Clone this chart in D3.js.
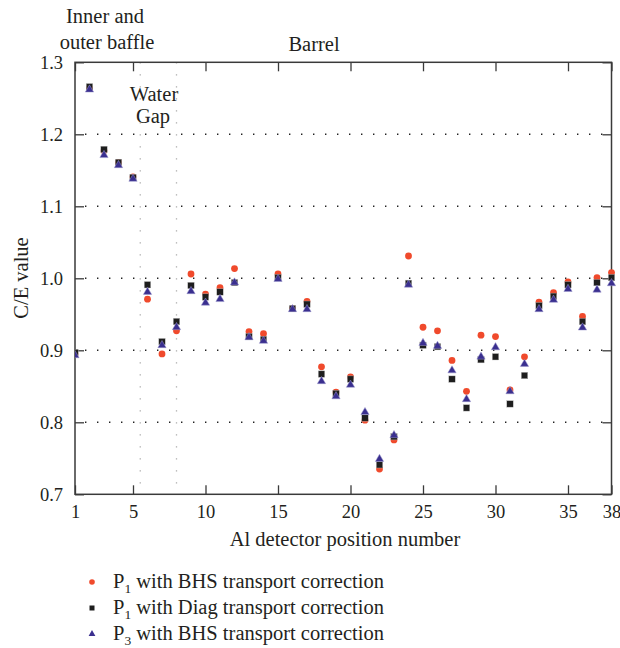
<!DOCTYPE html>
<html><head><meta charset="utf-8">
<script src="https://cdn.jsdelivr.net/npm/d3@7"></script>
<style>
html,body{margin:0;padding:0;background:#fff;}
svg text{font-family:"Liberation Serif","Tinos","Times New Roman","DejaVu Serif",serif;fill:#231f20;}
</style></head>
<body><svg id="c" width="620" height="648" font-family="Liberation Serif, DejaVu Serif, serif"></svg>
<script>
const positions = d3.range(1, 39);
const p1BHS = [0.895, 1.264, 1.177, 1.161, 1.141, 0.971, 0.895, 0.927, 1.006, 0.978, 0.987, 1.0135, 0.926, 0.923, 1.006, 0.958, 0.968, 0.877, 0.842, 0.863, 0.803, 0.735, 0.7755, 1.031, 0.932, 0.927, 0.886, 0.843, 0.921, 0.919, 0.845, 0.891, 0.967, 0.980, 0.995, 0.947, 1.001, 1.008];
const p1Diag = [0.897, 1.266, 1.179, 1.161, 1.140, 0.991, 0.912, 0.940, 0.990, 0.974, 0.981, 0.994, 0.919, 0.915, 1.001, 0.958, 0.964, 0.867, 0.840, 0.860, 0.806, 0.741, 0.780, 0.993, 0.907, 0.905, 0.860, 0.820, 0.887, 0.891, 0.8255, 0.865, 0.962, 0.975, 0.991, 0.940, 0.994, 1.001];
const p3BHS = [0.893, 1.262, 1.171, 1.157, 1.138, 0.981, 0.907, 0.932, 0.982, 0.966, 0.971, 0.994, 0.918, 0.913, 0.999, 0.957, 0.957, 0.857, 0.836, 0.852, 0.814, 0.749, 0.782, 0.991, 0.910, 0.906, 0.872, 0.832, 0.891, 0.904, 0.843, 0.881, 0.957, 0.970, 0.985, 0.9315, 0.984, 0.993];
const xTickValues = [1, 5, 10, 15, 20, 25, 30, 35, 38];
const yTickValues = [0.7, 0.8, 0.9, 1.0, 1.1, 1.2, 1.3];
const regionBounds = [5.5, 8];
const legendLabels = [["P", "1", " with BHS transport correction"], ["P", "1", " with Diag transport correction"], ["P", "3", " with BHS transport correction"]];

const FONT = "Liberation Serif, Tinos, DejaVu Serif, serif";
const svg = d3.select("#c");
const L = 75, R = 611.5, T = 62.3, B = 494.3;
const x = d3.scaleLinear().domain([1, 38]).range([L, R]);
const y = d3.scaleLinear().domain([0.7, 1.3]).range([B, T]);
const axisCol = "#3a3a3a";

// grid
svg.append("g").selectAll("line").data(yTickValues.slice(1, -1)).join("line")
  .attr("x1", L).attr("x2", R).attr("y1", d => y(d)).attr("y2", d => y(d))
  .attr("stroke", "#222").attr("stroke-width", 1.4).attr("stroke-dasharray", "1.4,10.6")
  .attr("stroke-dashoffset", -10);
svg.append("g").selectAll("line").data(regionBounds).join("line")
  .attr("x1", d => x(d)).attr("x2", d => x(d)).attr("y1", T).attr("y2", B)
  .attr("stroke", "#aaa").attr("stroke-width", 1.3).attr("stroke-dasharray", "1.3,10.7");

// axes (inner ticks)
const tl = 9;
svg.append("g").attr("transform", `translate(0,${B})`)
  .call(d3.axisBottom(x).tickValues(xTickValues).tickSize(-tl).tickPadding(11).tickFormat(d3.format("d")))
  .call(g => { g.select(".domain").remove(); g.attr("font-family", FONT); g.selectAll("text").attr("font-size", 18.5).attr("fill", "#231f20"); });
svg.append("g").attr("transform", `translate(0,${T})`)
  .call(d3.axisTop(x).tickValues(xTickValues).tickSize(-tl).tickFormat(""))
  .call(g => g.select(".domain").remove());
svg.append("g").attr("transform", `translate(${L},0)`)
  .call(d3.axisLeft(y).tickValues(yTickValues).tickSize(-tl).tickPadding(12).tickFormat(d3.format(".1f")))
  .call(g => { g.select(".domain").remove(); g.attr("font-family", FONT); g.selectAll("text").attr("font-size", 18.5).attr("fill", "#231f20"); });
svg.append("g").attr("transform", `translate(${R},0)`)
  .call(d3.axisRight(y).tickValues(yTickValues).tickSize(-tl).tickFormat(""))
  .call(g => g.select(".domain").remove());
svg.selectAll(".tick line").attr("stroke", axisCol).attr("stroke-width", 1.3);
svg.append("rect").attr("x", L).attr("y", T).attr("width", R - L).attr("height", B - T)
  .attr("fill", "none").attr("stroke", axisCol).attr("stroke-width", 1.5);

// clip
svg.append("clipPath").attr("id", "clip").append("rect")
  .attr("x", L).attr("y", T - 10).attr("width", R - L + 10).attr("height", B - T + 20);
const plot = svg.append("g").attr("clip-path", "url(#clip)");

const redC = "#f04a2c", blackC = "#1e1e1e", blueC = "#3a2f8f";
plot.append("g").selectAll("circle").data(positions).join("circle")
  .attr("cx", d => x(d)).attr("cy", (d, i) => y(p1BHS[i])).attr("r", 3.4).attr("fill", redC);
plot.append("g").selectAll("rect").data(positions).join("rect")
  .attr("x", d => x(d) - 3.2).attr("y", (d, i) => y(p1Diag[i]) - 3.2)
  .attr("width", 6.4).attr("height", 6.4).attr("fill", blackC)
  .attr("stroke", "#bbb").attr("stroke-width", 0.4);
const tri = d3.symbol().type(d3.symbolTriangle).size(30);
plot.append("g").selectAll("path").data(positions).join("path")
  .attr("transform", (d, i) => `translate(${x(d)},${y(p3BHS[i])})`)
  .attr("d", tri).attr("fill", blueC).attr("stroke", "#9d98cc").attr("stroke-width", 0.5);

// axis titles
const txt = svg.append("g").attr("font-family", FONT).attr("font-size", 20.5);
txt.append("text").attr("x", 345).attr("y", 546).attr("text-anchor", "middle")
  .text("Al detector position number");
txt.append("text").attr("transform", "translate(28,278) rotate(-90)").attr("text-anchor", "middle")
  .text("C/E value");

// region annotations
const ann = txt.append("g").attr("text-anchor", "middle");
ann.append("text").attr("x", 105).attr("y", 23).text("Inner and");
ann.append("text").attr("x", 107).attr("y", 49).text("outer baffle");
ann.append("text").attr("x", 314).attr("y", 51).text("Barrel");
ann.append("text").attr("x", 154).attr("y", 101).text("Water");
ann.append("text").attr("x", 153).attr("y", 123).text("Gap");

// legend
const lg = svg.append("g");
const ly = [582, 608, 634];
lg.append("circle").attr("cx", 92).attr("cy", ly[0]).attr("r", 2.8).attr("fill", redC);
lg.append("rect").attr("x", 89.5).attr("y", ly[1] - 2.5).attr("width", 5).attr("height", 5).attr("fill", blackC);
lg.append("path").attr("transform", `translate(92,${ly[2]})`).attr("d", d3.symbol().type(d3.symbolTriangle).size(20)).attr("fill", blueC);
legendLabels.forEach((lab, i) => {
  const t = txt.append("text").attr("x", 113).attr("y", ly[i] + 6);
  t.append("tspan").text(lab[0]);
  t.append("tspan").attr("dy", 5).attr("font-size", 13.5).text(lab[1]);
  t.append("tspan").attr("dy", -5).text(lab[2]);
});
</script></body></html>
